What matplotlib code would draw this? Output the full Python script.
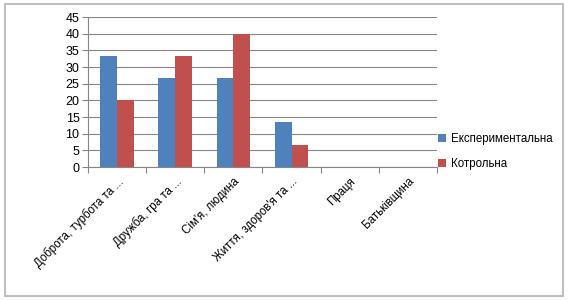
import numpy as np
import matplotlib.pyplot as plt
from matplotlib.patches import Rectangle

categories = ['Доброта, турбота та ...', 'Дружба, гра та ...', "Сім'я, людина",
              "Життя, здоров'я та ...", 'Праця', 'Батьківщина']
experimental = [33.3, 26.7, 26.7, 13.5, 0, 0]
control = [20, 33.3, 40, 6.7, 0, 0]
yticks = list(range(0, 50, 5))

plt.rcParams['font.family'] = ['Liberation Sans', 'DejaVu Sans']

fig = plt.figure(figsize=(5.7, 3.0), dpi=100)
ax = fig.add_axes([0.154, 0.443, 0.613, 0.50])

x = np.arange(len(categories))
w = 0.286
ax.bar(x - w / 2, experimental, w, color='#4F81BD', label='Експериментальна', zorder=3)
ax.bar(x + w / 2, control, w, color='#C0504D', label='Котрольна', zorder=3)

ax.set_xlim(-0.5, len(categories) - 0.5)
ax.set_ylim(0, 45)
ax.set_yticks(yticks)
ax.yaxis.grid(True, color='#868686', linewidth=0.8, zorder=0)
for s in ['top', 'right']:
    ax.spines[s].set_visible(False)
for s in ['left', 'bottom']:
    ax.spines[s].set_color('#868686')
ax.tick_params(axis='y', length=4, color='#868686', labelsize=9, pad=2)

ax.set_xticks(np.arange(len(categories) + 1) - 0.5)
ax.set_xticklabels([])
ax.tick_params(axis='x', which='major', length=4, color='#868686')
ax.set_xticks(x, minor=True)
ax.set_xticklabels(categories, minor=True, rotation=45, ha='right',
                   rotation_mode='anchor', fontsize=8.3)
ax.tick_params(axis='x', which='minor', length=0, pad=6)

fig.legend(loc='center left', bbox_to_anchor=(0.75, 0.495), frameon=False,
           fontsize=8.3, handlelength=0.7, handleheight=0.7, handletextpad=0.4,
           labelspacing=1.2)

fig.patches.append(Rectangle((0.008, 0.013), 0.98, 0.974, transform=fig.transFigure,
                             fill=False, edgecolor='#BFBFBF', linewidth=1.5))

fig.savefig('out.png', dpi=100)
